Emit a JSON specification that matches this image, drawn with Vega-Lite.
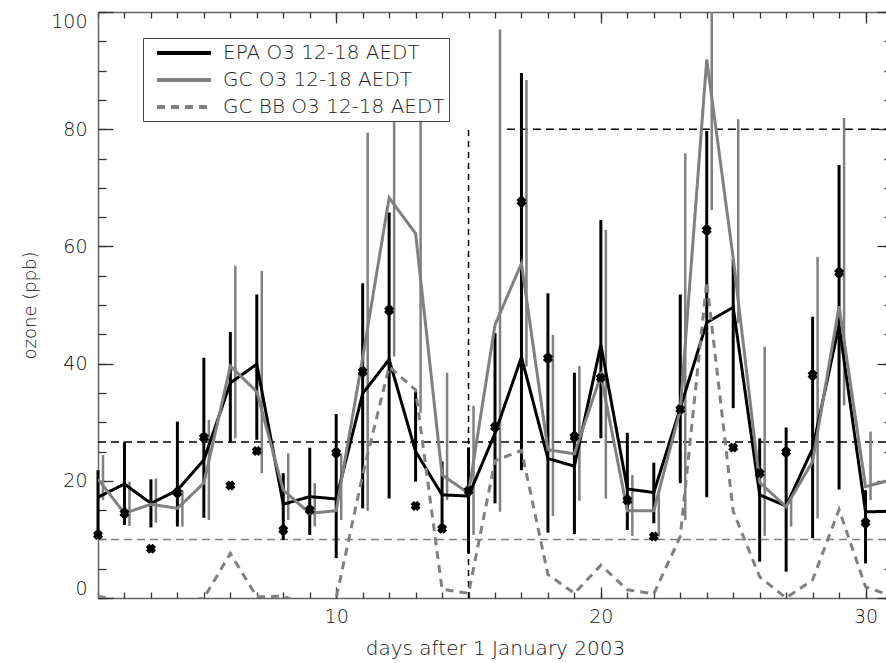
{
  "$schema": "https://vega.github.io/schema/vega-lite/v6.json",
  "width": 788,
  "height": 586,
  "autosize": {"type": "none"},
  "padding": {"left": 98, "top": 12, "right": 0, "bottom": 65},
  "background": "white",
  "datasets": {
    "daily": [
      {"day": 1, "epa": 17.2, "elo": 10.5, "ehi": 21.8, "gc": 20.3, "glo": 16.7, "ghi": 24.4, "bb": 0.3, "mk": 10.75},
      {"day": 2, "epa": 19.45, "elo": 12.45, "ehi": 26.6, "gc": 14.45, "glo": 12.3, "ghi": 19.85, "bb": -0.6, "mk": 14.45},
      {"day": 3, "epa": 16.15, "elo": 12.05, "ehi": 20.25, "gc": 16.0, "glo": 12.85, "ghi": 20.4, "bb": -1.0, "mk": 8.4},
      {"day": 4, "epa": 18.4, "elo": 12.2, "ehi": 30.1, "gc": 15.3, "glo": 12.2, "ghi": 18.4, "bb": -1.0, "mk": 18.0},
      {"day": 5, "epa": 23.55, "elo": 13.7, "ehi": 41.0, "gc": 19.6, "glo": 13.3, "ghi": 30.4, "bb": 0, "mk": 27.4},
      {"day": 6, "epa": 36.7, "elo": 26.6, "ehi": 45.4, "gc": 39.6, "glo": 27.25, "ghi": 56.7, "bb": 7.6, "mk": 19.2},
      {"day": 7, "epa": 39.9, "elo": 27.0, "ehi": 51.8, "gc": 35.2, "glo": 21.3, "ghi": 55.8, "bb": 0.2, "mk": 25.1},
      {"day": 8, "epa": 16.0, "elo": 9.9, "ehi": 21.3, "gc": 18.4, "glo": 13.3, "ghi": 24.7, "bb": 0.3, "mk": 11.6},
      {"day": 9, "epa": 17.3, "elo": 10.75, "ehi": 25.65, "gc": 14.45, "glo": 12.2, "ghi": 19.6, "bb": -1.5, "mk": 15.0},
      {"day": 10, "epa": 16.9, "elo": 6.8, "ehi": 31.4, "gc": 14.9, "glo": 13.3, "ghi": 24.7, "bb": 0, "mk": 24.8},
      {"day": 11, "epa": 34.9, "elo": 15.3, "ehi": 53.7, "gc": 41.0, "glo": 14.9, "ghi": 79.4, "bb": 21.0, "mk": 38.6},
      {"day": 12, "epa": 40.7, "elo": 17.0, "ehi": 65.8, "gc": 68.3, "glo": 41.2, "ghi": 87.5, "bb": 39.5, "mk": 49.1},
      {"day": 13, "epa": 25.0, "elo": 19.85, "ehi": 35.2, "gc": 62.2, "glo": 31.6, "ghi": 85.0, "bb": 35.5, "mk": 15.7},
      {"day": 14, "epa": 17.6, "elo": 11.6, "ehi": 23.3, "gc": 21.0, "glo": 16.7, "ghi": 38.45, "bb": 1.5, "mk": 11.8},
      {"day": 15, "epa": 17.4, "elo": 7.6, "ehi": 25.7, "gc": 17.9, "glo": 10.75, "ghi": 32.8, "bb": 0.8, "mk": 18.3},
      {"day": 16, "epa": 28.1, "elo": 16.15, "ehi": 45.2, "gc": 46.6, "glo": 14.7, "ghi": 97.0, "bb": 23.4, "mk": 29.2},
      {"day": 17, "epa": 41.1, "elo": 21.8, "ehi": 89.6, "gc": 57.1, "glo": 39.5, "ghi": 88.4, "bb": 25.2, "mk": 67.6},
      {"day": 18, "epa": 23.8, "elo": 11.15, "ehi": 52.0, "gc": 25.3, "glo": 14.0, "ghi": 44.9, "bb": 4.0, "mk": 40.9},
      {"day": 19, "epa": 22.5, "elo": 10.9, "ehi": 38.45, "gc": 24.6, "glo": 16.6, "ghi": 39.6, "bb": 0.8, "mk": 27.5},
      {"day": 20, "epa": 43.2, "elo": 27.25, "ehi": 64.5, "gc": 38.0, "glo": 17.0, "ghi": 62.8, "bb": 5.6, "mk": 37.6},
      {"day": 21, "epa": 18.6, "elo": 11.6, "ehi": 28.2, "gc": 14.9, "glo": 10.6, "ghi": 21.0, "bb": 1.4, "mk": 16.7},
      {"day": 22, "epa": 18.0, "elo": 12.75, "ehi": 23.1, "gc": 14.9, "glo": 10.5, "ghi": 18.4, "bb": 0.7, "mk": 10.5},
      {"day": 23, "epa": 32.4, "elo": 19.6, "ehi": 51.8, "gc": 32.1, "glo": 13.3, "ghi": 75.9, "bb": 10.5, "mk": 32.2},
      {"day": 24, "epa": 47.0, "elo": 17.2, "ehi": 79.7, "gc": 91.9, "glo": 66.2, "ghi": 100, "bb": 54.0, "mk": 62.8},
      {"day": 25, "epa": 49.6, "elo": 32.4, "ehi": 57.85, "gc": 58.0, "glo": 46.9, "ghi": 81.7, "bb": 14.8, "mk": 25.7},
      {"day": 26, "epa": 17.6, "elo": 6.2, "ehi": 27.25, "gc": 19.7, "glo": 10.6, "ghi": 42.9, "bb": 3.6, "mk": 21.3},
      {"day": 27, "epa": 15.7, "elo": 4.5, "ehi": 29.1, "gc": 15.6, "glo": 12.2, "ghi": 17.7, "bb": 0, "mk": 24.9},
      {"day": 28, "epa": 25.5, "elo": 10.2, "ehi": 48.0, "gc": 23.3, "glo": 13.6, "ghi": 58.2, "bb": 3.1, "mk": 38.05},
      {"day": 29, "epa": 46.6, "elo": 18.5, "ehi": 73.9, "gc": 49.8, "glo": 32.9, "ghi": 81.9, "bb": 15.1, "mk": 55.5},
      {"day": 30, "epa": 14.7, "elo": 5.9, "ehi": 18.4, "gc": 19.0, "glo": 16.7, "ghi": 28.4, "bb": 1.9, "mk": 12.85},
      {"day": 31, "epa": 14.8, "elo": null, "ehi": null, "gc": 20.2, "glo": null, "ghi": null, "bb": 0.3, "mk": null}
    ]
  },
  "layer": [
    {
      "data": {"values": [{"v": 26.6}]},
      "mark": {"type": "rule", "color": "#000000", "strokeWidth": 1.5, "strokeDash": [8, 5]},
      "encoding": {
        "y": {"field": "v", "type": "quantitative", "scale": {"domain": [0, 100], "nice": false, "zero": false}, "axis": null}
      }
    },
    {
      "data": {"values": [{"v": 10}]},
      "mark": {"type": "rule", "color": "#808080", "strokeWidth": 1.5, "strokeDash": [8, 5]},
      "encoding": {
        "y": {"field": "v", "type": "quantitative", "scale": {"domain": [0, 100], "nice": false, "zero": false}, "axis": null}
      }
    },
    {
      "data": {"values": [{"a": 16.45, "b": 31, "v": 80}]},
      "mark": {"type": "rule", "color": "#000000", "strokeWidth": 1.5, "strokeDash": [8, 5]},
      "encoding": {
        "x": {"field": "a", "type": "quantitative", "scale": {"domain": [1, 31], "range": [0, 794], "nice": false, "zero": false},
              "axis": {"orient": "bottom", "values": [10, 20, 30], "ticks": false, "labelPadding": 9, "labelFlush": false, "title": "days after 1 January 2003", "titleFontSize": 20, "titlePadding": 12, "domain": true}},
        "x2": {"field": "b"},
        "y": {"field": "v", "type": "quantitative", "scale": {"domain": [0, 100], "nice": false, "zero": false},
              "axis": {"orient": "left", "values": [0, 20, 40, 60, 80, 100], "ticks": false, "labelPadding": 11, "labelFlush": true, "labelFlushOffset": 0, "title": "ozone (ppb)", "titlePadding": 11, "domain": true}}
      }
    },
    {
      "data": {"values": [{"d": 15, "lo": 0, "hi": 80}]},
      "mark": {"type": "rule", "color": "#000000", "strokeWidth": 1.5, "strokeDash": [6, 5]},
      "encoding": {
        "x": {"field": "d", "type": "quantitative", "scale": {"domain": [1, 31], "range": [0, 794], "nice": false, "zero": false},
              "axis": {"orient": "bottom", "values": [10, 20, 30], "tickSize": -11, "labels": false, "domain": false, "title": null}},
        "y": {"field": "lo", "type": "quantitative", "scale": {"domain": [0, 100], "nice": false, "zero": false},
              "axis": {"orient": "left", "values": [0, 20, 40, 60, 80, 100], "tickSize": -15, "labels": false, "domain": false, "title": null}},
        "y2": {"field": "hi"}
      }
    },
    {
      "data": {"name": "daily"},
      "transform": [{"filter": "datum.day <= 30"}],
      "mark": {"type": "rule", "color": "#808080", "strokeWidth": 2.5, "xOffset": 5},
      "encoding": {
        "x": {"field": "day", "type": "quantitative", "scale": {"domain": [1, 31], "range": [0, 794], "nice": false, "zero": false},
              "axis": {"orient": "top", "values": [10, 20, 30], "tickSize": -11, "labels": false, "domain": true, "title": null}},
        "y": {"field": "glo", "type": "quantitative", "scale": {"domain": [0, 100], "nice": false, "zero": false},
              "axis": {"orient": "right", "values": [0, 20, 40, 60, 80, 100], "tickSize": -15, "labels": false, "domain": false, "offset": 6, "title": null}},
        "y2": {"field": "ghi"}
      }
    },
    {
      "data": {"name": "daily"},
      "transform": [{"filter": "datum.day <= 30"}],
      "mark": {"type": "rule", "color": "#000000", "strokeWidth": 3},
      "encoding": {
        "x": {"field": "day", "type": "quantitative", "scale": {"domain": [1, 31], "range": [0, 794], "nice": false, "zero": false},
              "axis": {"orient": "bottom", "values": [1,2,3,4,5,6,7,8,9,10,11,12,13,14,15,16,17,18,19,20,21,22,23,24,25,26,27,28,29,30,31], "tickSize": -6, "labels": false, "domain": false, "title": null}},
        "y": {"field": "elo", "type": "quantitative", "scale": {"domain": [0, 100], "nice": false, "zero": false},
              "axis": {"orient": "left", "values": [0,5,10,15,20,25,30,35,40,45,50,55,60,65,70,75,80,85,90,95,100], "tickSize": -8, "labels": false, "domain": false, "title": null}},
        "y2": {"field": "ehi"}
      }
    },
    {
      "data": {"name": "daily"},
      "transform": [{"fold": ["epa", "gc", "bb"], "as": ["series", "value"]}],
      "mark": {"type": "line", "strokeWidth": 3, "clip": true},
      "encoding": {
        "x": {"field": "day", "type": "quantitative", "scale": {"domain": [1, 31], "range": [0, 794], "nice": false, "zero": false},
              "axis": {"orient": "top", "values": [1,2,3,4,5,6,7,8,9,10,11,12,13,14,15,16,17,18,19,20,21,22,23,24,25,26,27,28,29,30,31], "tickSize": -6, "labels": false, "domain": false, "title": null}},
        "y": {"field": "value", "type": "quantitative", "scale": {"domain": [0, 100], "nice": false, "zero": false},
              "axis": {"orient": "right", "values": [0,5,10,15,20,25,30,35,40,45,50,55,60,65,70,75,80,85,90,95,100], "tickSize": -8, "labels": false, "domain": false, "offset": 6, "title": null}},
        "color": {"field": "series", "type": "nominal",
                  "scale": {"domain": ["epa", "gc", "bb"], "range": ["#000000", "#808080", "#808080"]},
                  "legend": {"title": null, "orient": "none", "legendX": 45, "legendY": 26, "symbolType": "M-3,0H3", "symbolSize": 324, "symbolStrokeWidth": 4, "symbolOffset": 26, "labelOffset": 28, "padding": 4, "rowPadding": 6, "strokeColor": "#444444", "fillColor": "#ffffff", "labelFontSize": 20, "labelFont": "DejaVu Sans", "labelFontWeight": 300, "labelColor": "#222222", "labelLimit": 400,
                             "labelExpr": "datum.label == 'epa' ? 'EPA O3 12-18 AEDT' : datum.label == 'gc' ? 'GC O3 12-18 AEDT' : 'GC BB O3 12-18 AEDT'"}},
        "strokeDash": {"field": "series", "type": "nominal",
                  "scale": {"domain": ["epa", "gc", "bb"], "range": [[1, 0], [1, 0], [8, 6]]},
                  "legend": {"title": null, "orient": "none", "legendX": 45, "legendY": 26, "symbolType": "M-3,0H3", "symbolSize": 324, "symbolStrokeWidth": 4, "symbolOffset": 26, "labelOffset": 28, "padding": 4, "rowPadding": 6, "strokeColor": "#444444", "fillColor": "#ffffff", "labelFontSize": 20, "labelFont": "DejaVu Sans", "labelFontWeight": 300, "labelColor": "#222222", "labelLimit": 400,
                             "labelExpr": "datum.label == 'epa' ? 'EPA O3 12-18 AEDT' : datum.label == 'gc' ? 'GC O3 12-18 AEDT' : 'GC BB O3 12-18 AEDT'"}}
      }
    },
    {
      "data": {"name": "daily"},
      "transform": [{"filter": "datum.day <= 30"}],
      "mark": {"type": "point", "filled": true, "color": "#000000", "opacity": 1, "size": 100,
               "shape": "M-1,-0.35L-0.35,-1L0,-0.7L0.35,-1L1,-0.35L0.7,0L1,0.35L0.35,1L0,0.7L-0.35,1L-1,0.35L-0.7,0Z"},
      "encoding": {
        "x": {"field": "day", "type": "quantitative", "scale": {"domain": [1, 31], "range": [0, 794], "nice": false, "zero": false}, "axis": null},
        "y": {"field": "mk", "type": "quantitative", "scale": {"domain": [0, 100], "nice": false, "zero": false}, "axis": null}
      }
    }
  ],
  "resolve": {"axis": {"x": "independent", "y": "independent"}},
  "config": {
    "view": {"stroke": null},
    "font": "DejaVu Sans",
    "axis": {
      "grid": false,
      "labelFont": "DejaVu Sans", "labelFontSize": 19, "labelFontWeight": 300, "labelColor": "#111111",
      "titleFont": "DejaVu Sans", "titleFontSize": 18, "titleFontWeight": 300, "titleColor": "#111111",
      "domainColor": "#666666", "domainWidth": 1.5, "tickColor": "#333333", "tickWidth": 1.3,
      "labelOverlap": false
    }
  }
}
